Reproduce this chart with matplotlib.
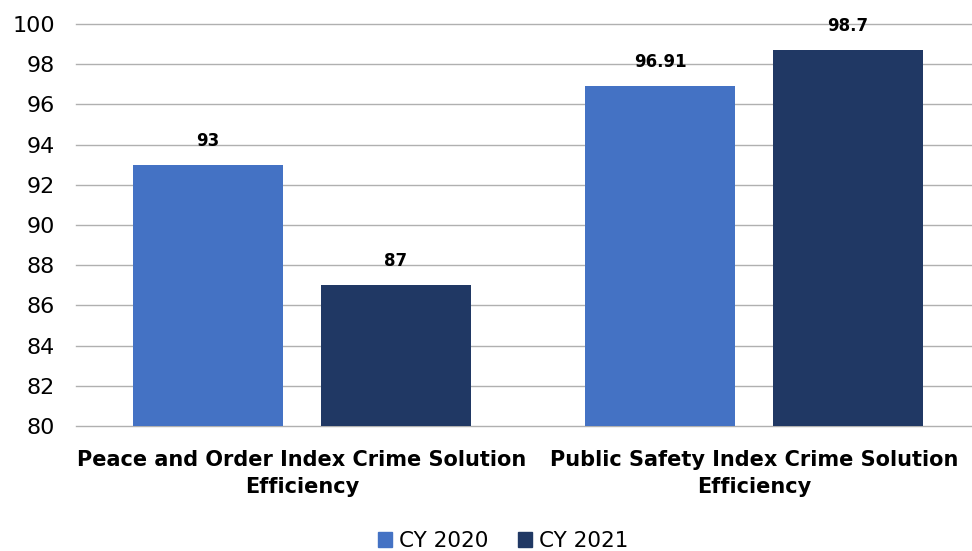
import matplotlib
matplotlib.use("Agg")
import matplotlib.pyplot as plt
from matplotlib.patches import Patch

categories = ["Peace and Order Index Crime Solution\nEfficiency",
              "Public Safety Index Crime Solution\nEfficiency"]
cy2020 = [93, 96.91]
cy2021 = [87, 98.7]
labels2020 = ["93", "96.91"]
labels2021 = ["87", "98.7"]
series_names = ["CY 2020", "CY 2021"]
yticks = [80, 82, 84, 86, 88, 90, 92, 94, 96, 98, 100]

c1 = "#4472C4"
c2 = "#203864"
plt.rcParams["font.family"] = ["DejaVu Sans"]

W, H = 972, 551
fig = plt.figure(figsize=(W / 100, H / 100), dpi=100)
ax = fig.add_axes([76 / W, 1 - 426 / H, (W - 76) / W, (426 - 24) / H])

x = list(range(len(categories)))
bw = 0.332
off = 0.208
ax.bar([i - off for i in x], [v - 80 for v in cy2020], bottom=80, width=bw, color=c1, zorder=3)
ax.bar([i + off for i in x], [v - 80 for v in cy2021], bottom=80, width=bw, color=c2, zorder=3)

for i in x:
    ax.text(i - off, cy2020[i] + 0.75, labels2020[i], ha="center", va="bottom",
            fontsize=12, fontweight="bold", color="black")
    ax.text(i + off, cy2021[i] + 0.75, labels2021[i], ha="center", va="bottom",
            fontsize=12, fontweight="bold", color="black")

ax.set_xlim(-0.5, (W - 302) / 452)
ax.set_ylim(80, 100)
ax.set_yticks(yticks)
ax.set_yticklabels([str(t) for t in yticks], fontsize=16)
ax.set_xticks(x)
ax.set_xticklabels(categories, fontsize=15, fontweight="bold", linespacing=1.45)
ax.tick_params(axis="x", length=0, pad=17)
ax.tick_params(axis="y", length=0, pad=15)
ax.grid(axis="y", color="#b0b0b0", linewidth=1.0, zorder=0)
for gl in ax.get_ygridlines():
    gl.set_clip_on(False)
for s in ax.spines.values():
    s.set_visible(False)
ax.set_axisbelow(True)

handles = [Patch(color=c1), Patch(color=c2)]
fig.legend(handles, series_names, loc="center", bbox_to_anchor=(503 / W, 1 - 541 / H),
           ncol=2, frameon=False, fontsize=15.5, handlelength=0.65, handleheight=0.65,
           handletextpad=0.3, columnspacing=1.4, borderpad=0)

fig.savefig("out.png", dpi=100)
